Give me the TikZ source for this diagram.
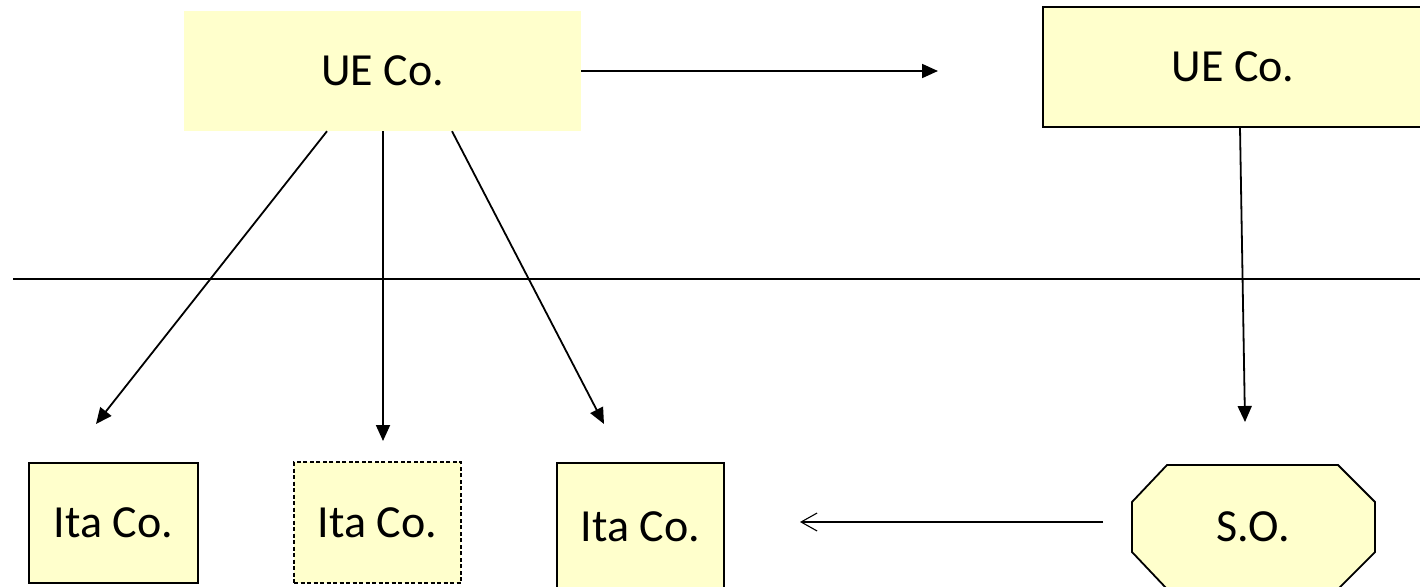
\documentclass[tikz,border=0pt]{standalone}
\usepackage{fontspec}
\setmainfont{Carlito}
\usetikzlibrary{arrows.meta}
\definecolor{boxfill}{RGB}{255,255,204}
\tikzset{
  box/.style={fill=boxfill, minimum width=#1, inner sep=0pt, font=\fontsize{46}{54}\selectfont},
  arr/.style={line width=1.8pt, -{Triangle[length=16pt,width=14pt]}},
  openarr/.style={line width=1.1pt, -{Straight Barb[length=16pt,width=18pt]}},
  sep/.style={line width=1.6pt}
}
\begin{document}
\begin{tikzpicture}[x=1pt,y=-1pt]
\useasboundingbox (0,0) rectangle (1420,586);
\clip (0,0) rectangle (1420,586);
% top boxes
\node[box=397pt, minimum height=120pt] (ue1) at (382.5,71) {UE Co.};
\node[box=380pt, minimum height=120pt, draw, line width=1.8pt] (ue2) at (1233,67) {UE Co.};
% bottom boxes
\node[box=169pt, minimum height=120pt, draw, line width=1.8pt] (ita1) at (113.5,523) {Ita Co.};
\node[box=167pt, minimum height=121pt, draw, dashed, dash pattern=on 4pt off 2.5pt, line width=1.5pt] (ita2) at (377.5,522.5) {Ita Co.};
\node[box=167pt, minimum height=128pt, draw, line width=1.8pt] (ita3) at (640.5,527) {Ita Co.};
% octagon
\draw[fill=boxfill, line width=1.8pt] (1167,465) -- (1338,465) -- (1375,502) -- (1375,552) -- (1338,589) -- (1167,589) -- (1132,552) -- (1132,502) -- cycle;
\node[font=\fontsize{46}{54}\selectfont, inner sep=0pt] (so) at (1253,527) {S.O.};
% separator line
\coordinate (sl) at (13,279);
\coordinate (sr) at (1420,279);
\draw[sep] (sl) -- (sr);
% free ends
\coordinate (c1) at (938,71);
\coordinate (t1) at (96,424);
\coordinate (t2) at (383,441);
\coordinate (t3) at (604,424);
\coordinate (t4) at (1245,422);
\coordinate (s5) at (1103,522);
\coordinate (t5) at (800,522);
% connectors
\draw[arr] (ue1.east) -- (c1);
\draw[arr] ([xshift=-55.5pt]ue1.south) -- (t1);
\draw[arr] ([xshift=0.5pt]ue1.south) -- (t2);
\draw[arr] ([xshift=69.5pt]ue1.south) -- (t3);
\draw[arr] ([xshift=7pt]ue2.south) -- (t4);
\draw[openarr] (s5) -- (t5);
\end{tikzpicture}
\end{document}
